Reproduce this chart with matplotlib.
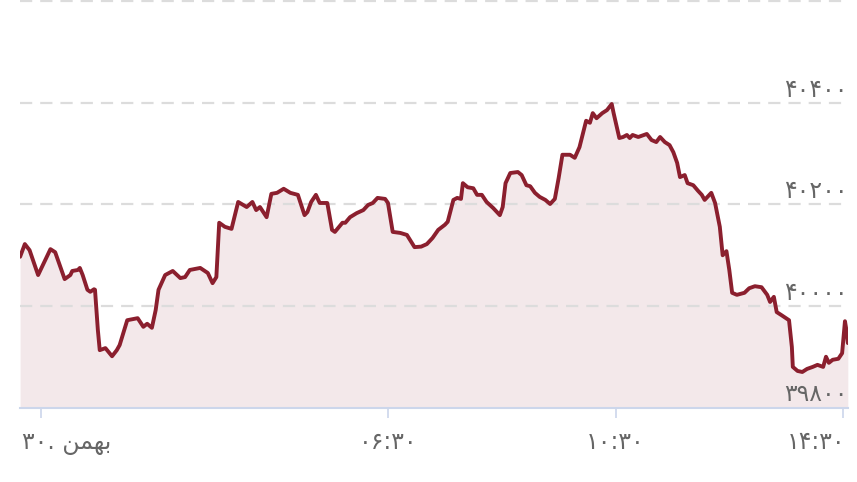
import matplotlib
matplotlib.use('Agg')
import matplotlib.pyplot as plt
import matplotlib.transforms as mtransforms

# time in minutes since midnight, price values
minutes = [2, 7, 12, 21, 34, 39, 49, 55, 57, 63, 65, 68, 73, 76, 80, 81, 84, 86, 92, 99,
           104, 107, 115, 126, 132, 136, 141, 145, 148, 155, 163, 171, 176, 181, 192, 200,
           205, 209, 212, 218, 225, 232, 241, 247, 251, 255, 262, 267, 273, 280, 287, 295,
           302, 305, 309, 314, 318, 326, 331, 334, 342, 345, 350, 357, 364, 369, 374, 379,
           387, 390, 395, 403, 410, 418, 425, 431, 437, 443, 450, 453, 459, 463, 467, 469,
           474, 480, 484, 489, 494, 501, 508, 511, 514, 519, 527, 531, 536, 540, 545, 550,
           556, 561, 566, 570, 574, 582, 587, 592, 599, 603, 606, 610, 616, 621, 626, 628,
           634, 638, 642, 645, 648, 654, 663, 668, 673, 677, 682, 687, 691, 695, 698, 703,
           706, 712, 717, 721, 724, 731, 735, 740, 743, 747, 750, 753, 758, 766, 771, 777,
           784, 790, 793, 797, 800, 805, 813, 816, 817, 822, 827, 832, 838, 843, 849, 852,
           855, 859, 865, 869, 872, 874, 875]
prices = [40097, 40122, 40110, 40061, 40112, 40106, 40053, 40061, 40069, 40071, 40075, 40061,
          40032, 40028, 40033, 40032, 39953, 39913, 39917, 39901, 39913, 39923, 39972, 39976,
          39959, 39965, 39957, 39992, 40032, 40061, 40069, 40055, 40057, 40071, 40075, 40065,
          40045, 40057, 40164, 40156, 40152, 40205, 40195, 40205, 40189, 40195, 40175, 40221,
          40223, 40231, 40223, 40219, 40179, 40185, 40205, 40219, 40203, 40203, 40150, 40146,
          40164, 40164, 40175, 40183, 40189, 40199, 40203, 40213, 40211, 40203, 40146, 40144,
          40140, 40116, 40117, 40122, 40134, 40150, 40160, 40166, 40209, 40213, 40211, 40242,
          40234, 40232, 40219, 40219, 40205, 40193, 40179, 40195, 40242, 40262, 40264, 40258,
          40238, 40236, 40223, 40215, 40209, 40201, 40211, 40252, 40298, 40298, 40292, 40313,
          40365, 40361, 40380, 40370, 40380, 40386, 40398, 40380, 40331, 40333, 40337, 40331,
          40337, 40333, 40339, 40327, 40323, 40333, 40323, 40317, 40303, 40282, 40254, 40258,
          40242, 40238, 40227, 40219, 40209, 40223, 40203, 40156, 40100, 40108, 40071, 40026,
          40022, 40026, 40035, 40039, 40037, 40022, 40008, 40018, 39988, 39982, 39972, 39919,
          39880, 39872, 39870, 39876, 39880, 39884, 39880, 39900, 39888, 39894, 39896, 39907,
          39970, 39947, 39927]

y_ticks = [39800, 40000, 40200, 40400]
y_labels = ['۳۹۸۰۰', '۴۰۰۰۰', '۴۰۲۰۰', '۴۰۴۰۰']
grid_levels = [40000, 40200, 40400, 40600]
x_ticks = [24, 390, 630, 870]
# "۳۰. بهمن" written in visual order with contextual forms
x_labels = ['۳۰. \ufee6\ufee4\ufeec\ufe91', '۰۶:۳۰', '۱۰:۳۰', '۱۴:۳۰']

plt.rcParams['font.family'] = ['DejaVu Sans']

W, H = 857, 482
fig = plt.figure(figsize=(W / 100, H / 100), dpi=100)
ax = fig.add_axes([20 / W, (H - 407.5) / H, 828 / W, 406 / H])
ax.set_xlim(1.9, 875.2)
ax.set_ylim(39800, 40600)

line_color = '#8b1f2e'
fill_color = '#f3e8ea'
label_color = '#666666'
axis_color = '#ccd6eb'
fs = 17

ax.fill_between(minutes, prices, 39800, color=fill_color, lw=0, zorder=1)
for g in grid_levels:
    ax.axhline(g, color='#dcdcdc', lw=1.6, dashes=(5.5, 3.6), zorder=2, clip_on=False)
ax.plot(minutes, prices, color=line_color, lw=2.8, solid_joinstyle='round',
        solid_capstyle='round', zorder=3)

for s in ['top', 'left', 'right']:
    ax.spines[s].set_visible(False)
ax.spines['bottom'].set_color(axis_color)
ax.spines['bottom'].set_linewidth(1.5)
ax.set_yticks([])
ax.set_xticks(x_ticks)
ax.tick_params(axis='x', length=7.5, width=1.2, color=axis_color, labelbottom=False)

# y labels on the right, just above their grid lines
ytrans = mtransforms.blended_transform_factory(ax.transAxes, ax.transData) + \
    mtransforms.ScaledTranslation(0, 6 / 100, fig.dpi_scale_trans)
for v, lab in zip(y_ticks, y_labels):
    ax.text(1.0, v, lab, transform=ytrans, ha='right', va='baseline',
            fontsize=fs, color=label_color)

# x labels
xbase = mtransforms.blended_transform_factory(ax.transData, ax.transAxes)
dy = -41.5 / 100
for i, (t, lab) in enumerate(zip(x_ticks, x_labels)):
    if i == 0:
        tr = ax.transAxes + mtransforms.ScaledTranslation(2 / 100, dy, fig.dpi_scale_trans)
        ax.text(0.0, 0.0, lab, transform=tr, ha='left', va='baseline', fontsize=fs, color=label_color)
    elif i == len(x_ticks) - 1:
        tr = ax.transAxes + mtransforms.ScaledTranslation(-3 / 100, dy, fig.dpi_scale_trans)
        ax.text(1.0, 0.0, lab, transform=tr, ha='right', va='baseline', fontsize=fs, color=label_color)
    else:
        tr = xbase + mtransforms.ScaledTranslation(0, dy, fig.dpi_scale_trans)
        ax.text(t, 0.0, lab, transform=tr, ha='center', va='baseline', fontsize=fs, color=label_color)

fig.savefig('out.png', dpi=100)
